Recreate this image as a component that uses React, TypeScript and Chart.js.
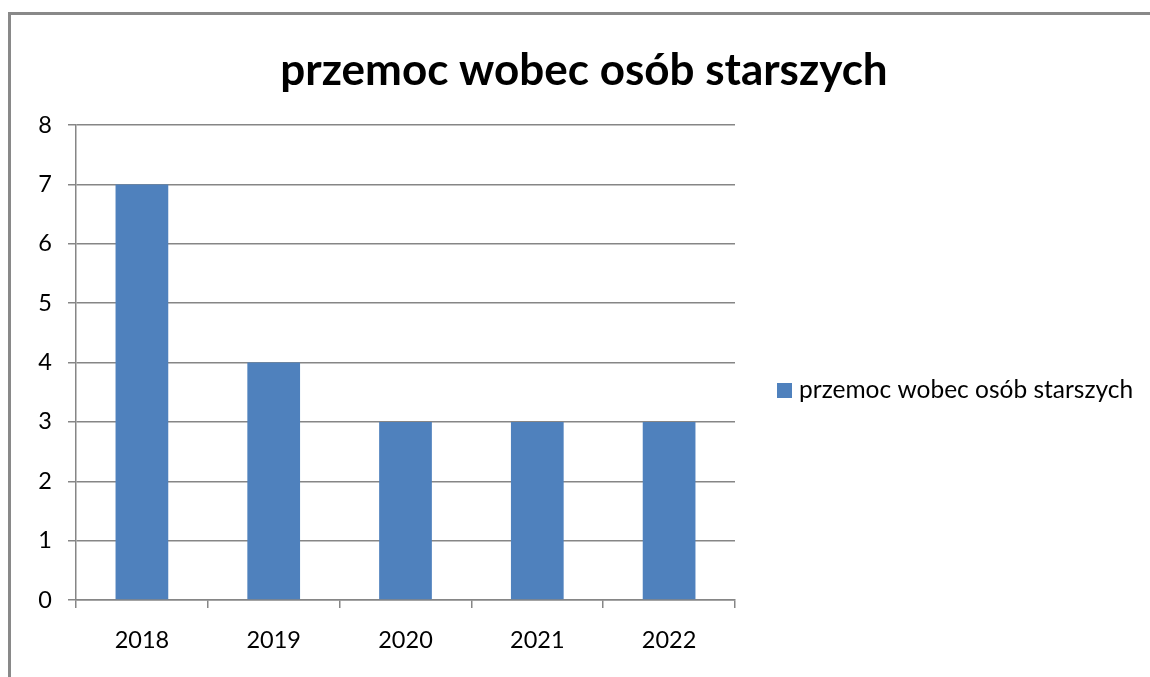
import React, { useEffect, useRef } from "react";
import { Chart, registerables } from "chart.js";

Chart.register(...registerables);

const categories = ["2018", "2019", "2020", "2021", "2022"];
const seriesLabel = "przemoc wobec osób starszych";
const seriesValues = [7, 4, 3, 3, 3];
const chartTitle = "przemoc wobec osób starszych";
const yTicks = [0, 1, 2, 3, 4, 5, 6, 7, 8];

const BAR = "#4F81BD";
const GRID = "#868686";
const FONT = "Lato, 'Open Sans', sans-serif";

export default function App() {
  const ref = useRef<HTMLCanvasElement | null>(null);

  useEffect(() => {
    if (!ref.current) return;
    const overlay = {
      id: "overlay",
      afterDraw(chart: any) {
        const ctx = chart.ctx;
        ctx.save();
        ctx.fillStyle = "#000";
        ctx.font = `bold 44px ${FONT}`;
        ctx.textAlign = "center";
        ctx.textBaseline = "alphabetic";
        ctx.fillText(chartTitle, 584, 85);
        ctx.fillStyle = BAR;
        ctx.fillRect(777, 383, 15, 15);
        ctx.fillStyle = "#000";
        ctx.font = `24.5px ${FONT}`;
        ctx.textAlign = "left";
        ctx.fillText(chart.data.datasets[0].label, 799, 398);
        ctx.restore();
      },
    };
    const chart = new Chart(ref.current, {
      type: "bar",
      data: {
        labels: categories,
        datasets: [
          {
            label: seriesLabel,
            data: seriesValues,
            backgroundColor: BAR,
            barPercentage: 0.4,
            categoryPercentage: 1,
          },
        ],
      },
      options: {
        responsive: false,
        animation: false,
        layout: { padding: { left: 0, top: 125, right: 415, bottom: 0 } },
        plugins: { legend: { display: false }, title: { display: false }, tooltip: { enabled: false } },
        scales: {
          x: {
            afterFit: (s: any) => {
              s.height = 77;
            },
            grid: { drawOnChartArea: false, drawTicks: true, tickLength: 8, color: GRID, lineWidth: 1.5 },
            border: { display: true, color: GRID, width: 1.5 },
            ticks: { color: "#000", font: { family: FONT, size: 23.5 }, padding: 18 },
          },
          y: {
            min: 0,
            max: yTicks[yTicks.length - 1],
            afterFit: (s: any) => {
              s.width = 76;
            },
            afterBuildTicks: (s: any) => {
              s.ticks = yTicks.map((v) => ({ value: v }));
            },
            grid: { color: GRID, lineWidth: 1.5, tickLength: 8 },
            border: { display: true, color: GRID, width: 1.5 },
            ticks: { color: "#000", font: { family: FONT, size: 23.5 }, padding: 16 },
          },
        },
      },
      plugins: [overlay],
    });
    return () => chart.destroy();
  }, []);

  return (
    <div style={{ position: "fixed", left: 0, top: 0, width: 1150, height: 677, background: "#fff", overflow: "hidden" }}>
      <div
        style={{
          position: "absolute",
          left: 8,
          top: 12,
          width: 1200,
          height: 700,
          borderTop: "3px solid #898989",
          borderLeft: "3px solid #898989",
        }}
      />
      <canvas ref={ref} width={1150} height={677} style={{ position: "absolute", left: 0, top: 0 }} />
    </div>
  );
}
